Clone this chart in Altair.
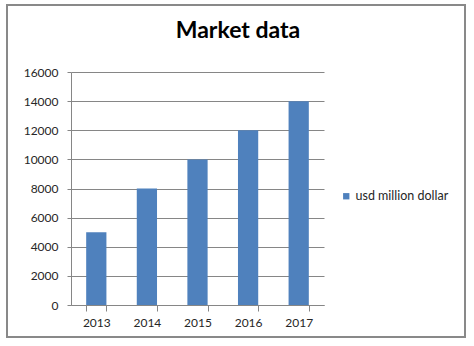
import altair as alt
import pandas as pd

years = ["2013", "2014", "2015", "2016", "2017"]
values = [5000, 8000, 10000, 12000, 14000]
series_name = "usd million dollar"
title_text = "Market data"

df = pd.DataFrame({"year": years, "value": values, "series": [series_name] * len(years)})
one = pd.DataFrame({"k": [0]})

FONT = "Lato"
GRAY = "#868686"
TXT = "#262626"

bars = alt.Chart(df).mark_bar(color="#4F81BD").encode(
    x=alt.X("year:N", title=None, sort=years,
            scale=alt.Scale(paddingInner=0.6, paddingOuter=0.3),
            axis=alt.Axis(labelAngle=0, tickBand="extent", tickSize=6, labelPadding=6,
                          domainColor=GRAY, tickColor=GRAY, labelFontSize=12,
                          labelColor=TXT, labelFont=FONT, grid=False)),
    y=alt.Y("value:Q", title=None,
            scale=alt.Scale(domain=[0, 16000], nice=False),
            axis=alt.Axis(values=list(range(0, 16001, 2000)), format="d", tickSize=4,
                          labelPadding=9, domainColor=GRAY, tickColor=GRAY, gridColor=GRAY,
                          labelFontSize=12, labelColor=TXT, labelFont=FONT)),
    color=alt.Color("series:N", title=None,
                    scale=alt.Scale(domain=[series_name], range=["#4F81BD"]),
                    legend=alt.Legend(orient="none", legendX=269, legendY=118,
                                      symbolType="square", symbolSize=40,
                                      symbolStrokeWidth=0, labelFontSize=12.5,
                                      labelOffset=3,
                                      labelFont=FONT, labelColor=TXT)),
)

title = alt.Chart(one).mark_text(text=title_text, font=FONT, fontSize=23, fontWeight="bold",
                                  align="center", baseline="alphabetic", color="#000000").encode(
    x=alt.value(167), y=alt.value(-34))

border = alt.Chart(one).mark_rect(fill="transparent", stroke="#898989", strokeWidth=2).encode(
    x=alt.value(-64), x2=alt.value(394), y=alt.value(-67), y2=alt.value(265))

chart = alt.layer(border, bars, title).properties(
    width=253, height=233,
    autosize=alt.AutoSizeParams(type="none"),
    padding={"left": 71, "top": 72, "right": 150, "bottom": 41},
    background="white",
).configure_view(strokeWidth=0)

chart.save("out.html", embed_options={"renderer": "svg", "actions": False})
